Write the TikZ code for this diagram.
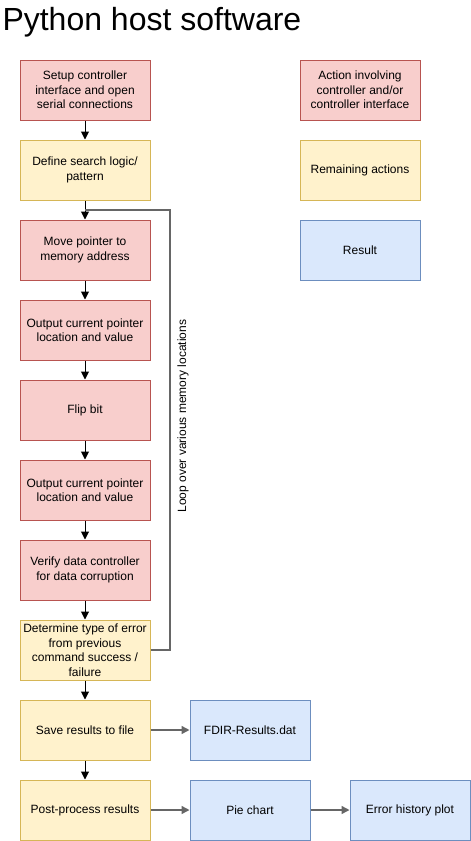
\documentclass[tikz,border=0pt]{standalone}
\usepackage{fontspec}
\setmainfont{Liberation Sans}
\usetikzlibrary{arrows.meta}

\definecolor{actfill}{HTML}{F8CECC}
\definecolor{actline}{HTML}{B85450}
\definecolor{restfill}{HTML}{FFF2CC}
\definecolor{restline}{HTML}{D6B656}
\definecolor{resfill}{HTML}{DAE8FC}
\definecolor{resline}{HTML}{6C8EBF}
\definecolor{linkgray}{HTML}{666666}

\begin{document}
\begin{tikzpicture}[x=1pt, y=-1pt, line width=1pt,
	box/.style={draw, minimum width=130pt, minimum height=60pt, inner sep=2pt,
		align=center, font=\fontsize{12}{14.5}\selectfont},
	action/.style={box, fill=actfill, draw=actline},
	remain/.style={box, fill=restfill, draw=restline},
	result/.style={box, fill=resfill, draw=resline, minimum width=120pt},
	flow/.style={-{Triangle[length=8pt, width=8pt]}, black},
	side/.style={-{Triangle[length=8pt, width=8pt]}, linkgray, line width=1.5pt},
	loop/.style={linkgray, line width=1.5pt}]

\useasboundingbox (0,0) rectangle (471,841);

% Title
\node[anchor=west, font=\fontsize{32}{38}\selectfont, inner sep=0pt] (title) at (2,22)
	{Python host software};

% Main flow column
\node[action] (setup)  at (85,90)  {Setup controller\\interface and open\\serial connections};
\node[remain] (search) at (85,170) {Define search logic/\\pattern};
\node[action] (move)   at (85,250) {Move pointer to\\memory address};
\node[action] (out1)   at (85,330) {Output current pointer\\location and value};
\node[action] (flip)   at (85,410) {Flip bit};
\node[action] (out2)   at (85,490) {Output current pointer\\location and value};
\node[action] (verify) at (85,570) {Verify data controller\\for data corruption};
\node[remain] (det)    at (85,650) {Determine type of error\\from previous\\command success /\\failure};
\node[remain] (save)   at (85,730) {Save results to file};
\node[remain] (post)   at (85,810) {Post-process results};

% Results
\node[result] (dat)  at (250,730) {FDIR-Results.dat};
\node[result] (pie)  at (250,810) {Pie chart};
\node[result] (hist) at (410,810) {Error history plot};

% Legend
\node[action, minimum width=120pt] (legact) at (360,90)  {Action involving\\controller and/or\\controller interface};
\node[remain, minimum width=120pt] (legrem) at (360,170) {Remaining actions};
\node[result] (legres) at (360,250) {Result};

% Flow arrows
\foreach \from/\to in {setup/search, search/move, move/out1, out1/flip,
	flip/out2, out2/verify, verify/det, det/save, save/post}
	\draw[flow] (\from) -- (\to);

\draw[side] (save) -- (dat);
\draw[side] (post) -- (pie);
\draw[side] (pie) -- (hist);

% Loop back
\coordinate (join) at (85,210);
\coordinate (loopcorner) at (170,210);
\draw[loop] (det.east) -| (loopcorner) -- (join);
\node[rotate=90, font=\fontsize{12}{14.5}\selectfont] (looplabel) at (183,416)
	{Loop over various memory locations};

\end{tikzpicture}
\end{document}
